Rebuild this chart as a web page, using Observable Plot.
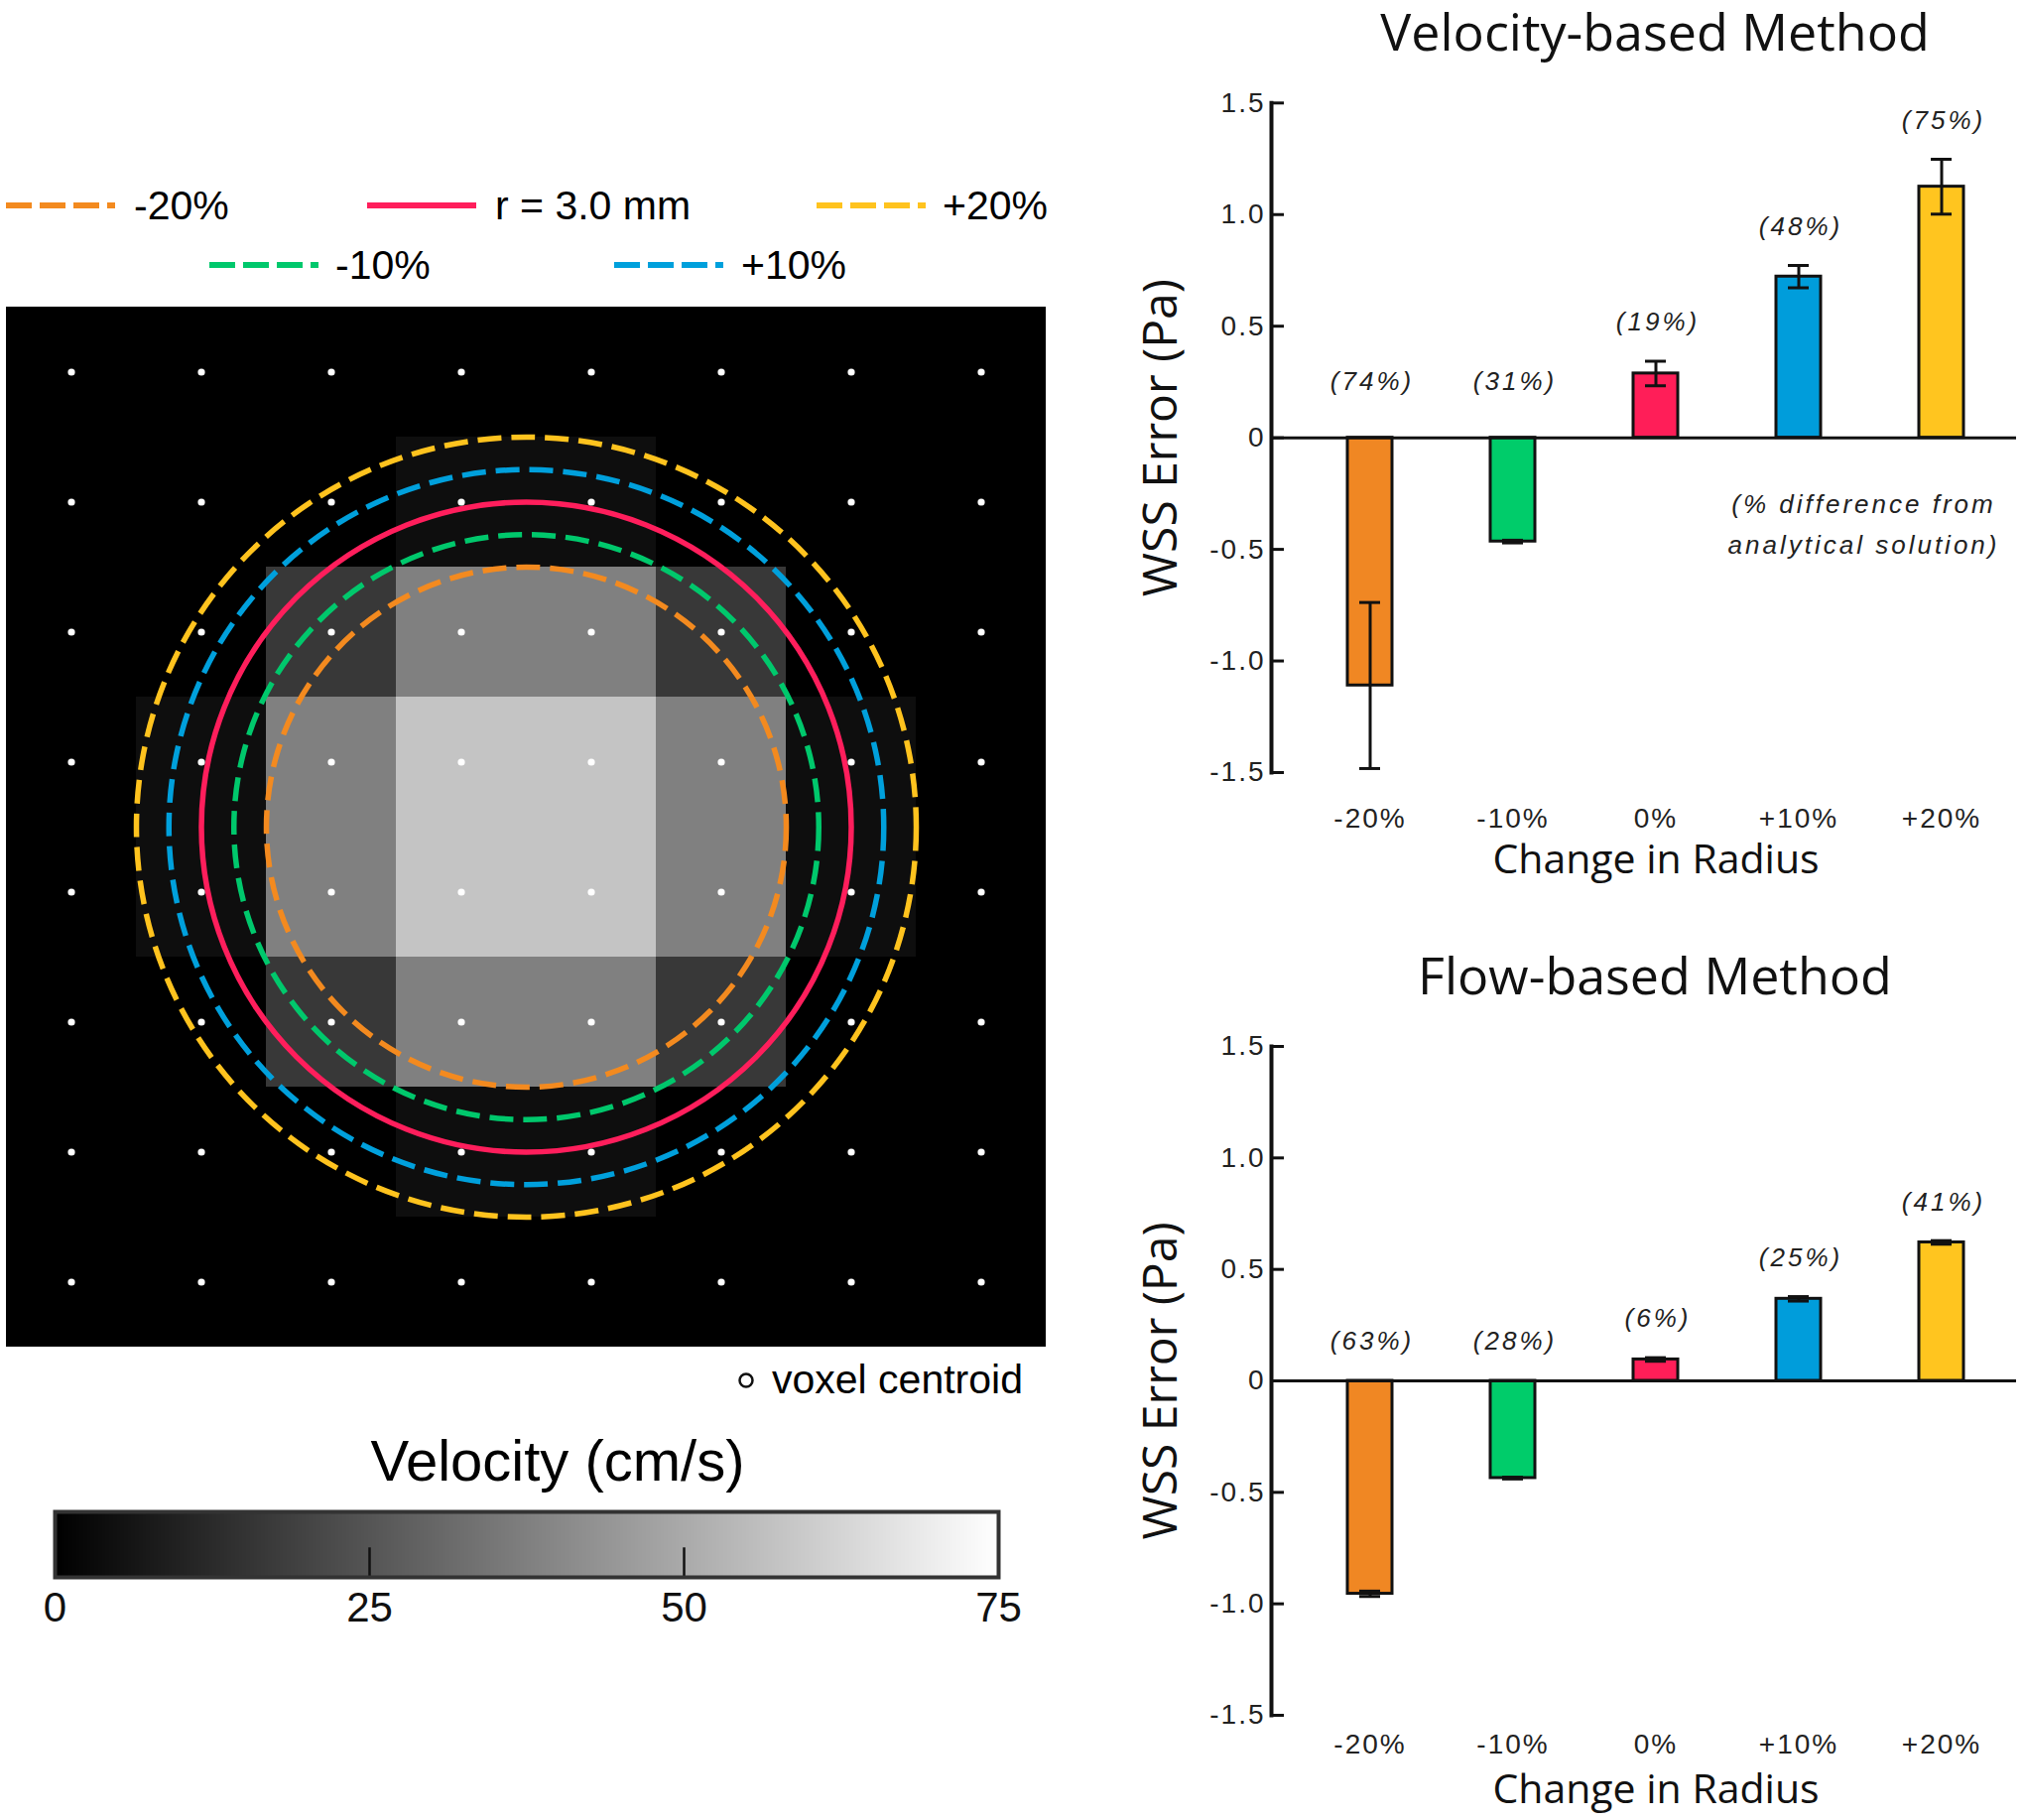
<!DOCTYPE html>
<html><head><meta charset="utf-8">
<script src="https://cdn.jsdelivr.net/npm/d3@7"></script>
<script src="https://cdn.jsdelivr.net/npm/@observablehq/plot@0.6"></script>
<style>
html,body{margin:0;padding:0;background:#fff;}
body{width:2040px;height:1834px;position:relative;overflow:hidden;font-family:"Liberation Sans",Arial,sans-serif;color:#000;}
.abs{position:absolute;}
.lbl{position:absolute;font-size:41px;line-height:1;transform:translateY(-50%);white-space:nowrap;}
.title{position:absolute;font-family:"Open Sans",sans-serif;font-size:52px;line-height:1;transform:translate(-50%,-50%);white-space:nowrap;color:#111;}
svg{overflow:visible;}
svg.bars g[aria-label="y-axis tick label"] text, svg.bars g[aria-label="x-axis tick label"] text{letter-spacing:2px;}
svg.bars [font-style="italic"] text{letter-spacing:3px;}
</style></head><body>
<div id="legend"></div>
<div id="field" class="abs" style="left:6px;top:309px"></div>
<div id="centroidKey"></div>
<div class="title" style="left:562px;top:1472px;font-family:'Liberation Sans',Arial,sans-serif;font-size:58px;color:#000">Velocity (cm/s)</div>
<div id="cbar" class="abs" style="left:0;top:1500px"></div>
<div class="title" style="left:1668px;top:31px">Velocity-based Method</div>
<div id="chart1" class="abs" style="left:1130px;top:70px"></div>
<div class="title" style="left:1668px;top:982px">Flow-based Method</div>
<div id="chart2" class="abs" style="left:1130px;top:1020px"></div>
<script>
// ---------- data ----------
const categories = ["-20%", "-10%", "0%", "+10%", "+20%"];
const barColors = ["#f08723", "#00cc6a", "#ff1e58", "#009ddb", "#ffc51f"];

const velocityMean = [-1.11, -0.465, 0.288, 0.722, 1.125];
const velocityErr  = [0.372, 0.006, 0.055, 0.05, 0.123];
const velocityPct  = ["(74%)", "(31%)", "(19%)", "(48%)", "(75%)"];

const flowMean = [-0.955, -0.436, 0.096, 0.368, 0.621];
const flowErr  = [0.012, 0.004, 0.008, 0.01, 0.008];
const flowPct  = ["(63%)", "(28%)", "(6%)", "(25%)", "(41%)"];

const yTicks = [-1.5, -1.0, -0.5, 0, 0.5, 1.0, 1.5];
const noteText = "(% difference from\nanalytical solution)";

// voxel field (velocity, cm/s), 8 x 8 voxels of 1.2 mm
const voxelSizeMm = 1.2;
const voxelVelocity = [
  [0, 0, 0,    0,    0,    0,    0, 0],
  [0, 0, 0,    4,    4,    0,    0, 0],
  [0, 0, 16.5, 37.5, 37.5, 16.5, 0, 0],
  [0, 4, 37.5, 57.5, 57.5, 37.5, 4, 0],
  [0, 4, 37.5, 57.5, 57.5, 37.5, 4, 0],
  [0, 0, 16.5, 37.5, 37.5, 16.5, 0, 0],
  [0, 0, 0,    4,    4,    0,    0, 0],
  [0, 0, 0,    0,    0,    0,    0, 0]
];
const circleLabels = ["-20%", "-10%", "r = 3.0 mm", "+10%", "+20%"];
const circleRadiiMm = [2.4, 2.7, 3.0, 3.3, 3.6];
const circleColors = ["#f38a1f", "#00c86c", "#ff1e5c", "#00a0dc", "#ffc31e"];
const circleDashed = [true, true, false, true, true];

const colorbarDomain = [0, 75];
const colorbarTicks = [0, 25, 50, 75];

// ---------- legend (above the voxel field) ----------
const legendLayout = {
  "-20%": {x: 6, y: 207, tx: 135},
  "-10%": {x: 211, y: 267, tx: 338},
  "r = 3.0 mm": {x: 370, y: 207, tx: 499},
  "+10%": {x: 619, y: 267, tx: 747},
  "+20%": {x: 823, y: 207, tx: 950}
};
const legend = document.getElementById("legend");
circleLabels.forEach((lab, i) => {
  const p = legendLayout[lab];
  const s = document.createElementNS("http://www.w3.org/2000/svg", "svg");
  s.setAttribute("width", 110); s.setAttribute("height", 12);
  s.style.position = "absolute"; s.style.left = p.x + "px"; s.style.top = (p.y - 6) + "px";
  s.innerHTML = `<line x1="0" x2="110" y1="6" y2="6" stroke="${circleColors[i]}" stroke-width="6" ${circleDashed[i] ? 'stroke-dasharray="26,8"' : ''}/>`;
  legend.appendChild(s);
  const t = document.createElement("div");
  t.className = "lbl"; t.style.left = p.tx + "px"; t.style.top = p.y + "px"; t.textContent = lab;
  legend.appendChild(t);
});

// ---------- voxel field ----------
const fieldSize = 1048;
const fieldMm = voxelSizeMm * voxelVelocity.length;
const center = fieldMm / 2;
const cells = voxelVelocity.flatMap((row, r) => row.map((v, c) => ({r, c, v})));
const circles = circleLabels.map((label, i) => ({label, radius: circleRadiiMm[i], color: circleColors[i], dashed: circleDashed[i]}));

document.getElementById("field").appendChild(Plot.plot({
  width: fieldSize, height: fieldSize, margin: 0,
  x: {domain: [0, fieldMm], axis: null},
  y: {domain: [0, fieldMm], axis: null, reverse: true},
  color: {type: "linear", domain: colorbarDomain, range: ["#000", "#fff"]},
  r: {type: "linear", domain: [0, fieldMm], range: [0, fieldSize]},
  style: {background: "#000"},
  marks: [
    Plot.rect(cells, {
      x1: d => d.c * voxelSizeMm, x2: d => (d.c + 1) * voxelSizeMm,
      y1: d => d.r * voxelSizeMm, y2: d => (d.r + 1) * voxelSizeMm,
      fill: "v", shapeRendering: "crispEdges"
    }),
    ...circles.map(ci => Plot.dot([ci], {
      x: () => center, y: () => center, r: "radius",
      stroke: ci.color, strokeWidth: 5.5, fill: "none",
      strokeDasharray: ci.dashed ? "24,10" : null
    })),
    Plot.dot(cells, {
      x: d => (d.c + 0.5) * voxelSizeMm, y: d => (d.r + 0.5) * voxelSizeMm,
      r: 3.6, fill: "#fff", stroke: "none"
    })
  ]
}));

// voxel centroid key
const ck = document.getElementById("centroidKey");
ck.innerHTML = `<svg class="abs" style="left:743px;top:1382px" width="18" height="18"><circle cx="9" cy="9" r="6.5" fill="none" stroke="#111" stroke-width="2.5"/></svg>
<div class="lbl" style="left:778px;top:1390px">voxel centroid</div>`;

// ---------- colour bar ----------
document.getElementById("cbar").appendChild(Plot.plot({
  width: 1070, height: 170,
  marginLeft: 55, marginRight: 64, marginTop: 23, marginBottom: 81,
  x: {domain: colorbarDomain},
  y: {domain: [0, 1], axis: null},
  color: {type: "linear", domain: colorbarDomain, range: ["#000", "#fff"]},
  style: {fontFamily: "'Liberation Sans', Arial, sans-serif", color: "#111"},
  marks: [
    Plot.raster({fill: (x, y) => x, x1: colorbarDomain[0], x2: colorbarDomain[1], y1: 0, y2: 1}),
    Plot.ruleX(colorbarTicks.slice(1, -1), {y1: 0, y2: 0.45, strokeWidth: 2.5, stroke: "#111"}),
    Plot.frame({stroke: "#333", strokeWidth: 4}),
    Plot.axisX({ticks: colorbarTicks, tickSize: 0, tickPadding: 15, fontSize: 42, label: null, tickFormat: d => String(d)})
  ]
}));

// ---------- bar charts ----------
function barChart({mean, err, pct, height, marginTop, marginBottom, negDy, xPad, xTitleDy, note}) {
  const rows = categories.map((cat, i) => ({cat, mean: mean[i], err: err[i], pct: pct[i]}));
  const frameW = 910 - 151 - 8;
  const marks = [
    Plot.frame({anchor: "left", strokeWidth: 4, stroke: "#111"}),
    Plot.ruleY(yTicks, {insetRight: frameW - 13, strokeWidth: 3, stroke: "#111"}),
    Plot.axisY({ticks: yTicks, tickSize: 0, tickPadding: 6, fontSize: 28, label: null, tickFormat: d => d === 0 ? "0" : d.toFixed(1)}),
    Plot.axisX({tickSize: 0, tickPadding: xPad, fontSize: 28, label: null}),
    Plot.barY(rows, {x: "cat", y: "mean", fill: "cat", stroke: "#111", strokeWidth: 3}),
    Plot.ruleY([0], {strokeWidth: 3, stroke: "#111"}),
    Plot.ruleX(rows, {x: "cat", y1: d => d.mean - d.err, y2: d => d.mean + d.err, strokeWidth: 3, stroke: "#111"}),
    Plot.tickY(rows, {x: "cat", y: d => d.mean + d.err, inset: 12, strokeWidth: 3, stroke: "#111"}),
    Plot.tickY(rows, {x: "cat", y: d => d.mean - d.err, inset: 12, strokeWidth: 3, stroke: "#111"}),
    Plot.text(rows.filter(d => d.mean >= 0), {x: "cat", y: d => d.mean + d.err, text: "pct", dy: -39, dx: 2, fontSize: 26, fontStyle: "italic", fill: "#222"}),
    Plot.text(rows.filter(d => d.mean < 0), {x: "cat", y: () => 0, text: "pct", dy: -negDy, dx: 2, fontSize: 26, fontStyle: "italic", fill: "#222"}),
    Plot.text(["WSS Error (Pa)"], {frameAnchor: "left", textAnchor: "middle", rotate: -90, dx: -111, fontSize: 48, fontFamily: "'Open Sans', sans-serif", fill: "#111"}),
    Plot.text(["Change in Radius"], {frameAnchor: "bottom", textAnchor: "middle", dx: 12, dy: xTitleDy, fontSize: 41, fontFamily: "'Open Sans', sans-serif", fill: "#111"})
  ];
  if (note) marks.push(Plot.text([note], {frameAnchor: "top-right", textAnchor: "middle", lineAnchor: "middle", dx: -154, dy: 421, lineHeight: 1.58, fontSize: 26, fontStyle: "italic", fill: "#222"}));
  return Plot.plot({
    width: 910, height,
    marginLeft: 151, marginRight: 8, marginTop, marginBottom,
    className: "bars",
    style: {fontFamily: "'Liberation Sans', Arial, sans-serif", color: "#222", background: "transparent"},
    x: {domain: categories, range: [176.6, 900.4], paddingInner: 0.69, paddingOuter: 0.345, axis: null, label: null},
    y: {domain: [-1.5, 1.5], axis: null, label: null},
    color: {domain: categories, range: barColors},
    marks
  });
}

document.getElementById("chart1").appendChild(barChart({
  mean: velocityMean, err: velocityErr, pct: velocityPct,
  height: 830, marginTop: 33.3, marginBottom: 122, negDy: 56, xPad: 36, xTitleDy: 101, note: noteText
}));
document.getElementById("chart2").appendChild(barChart({
  mean: flowMean, err: flowErr, pct: flowPct,
  height: 814, marginTop: 34, marginBottom: 106, negDy: 40, xPad: 19, xTitleDy: 88, note: null
}));
</script>
</body></html>
